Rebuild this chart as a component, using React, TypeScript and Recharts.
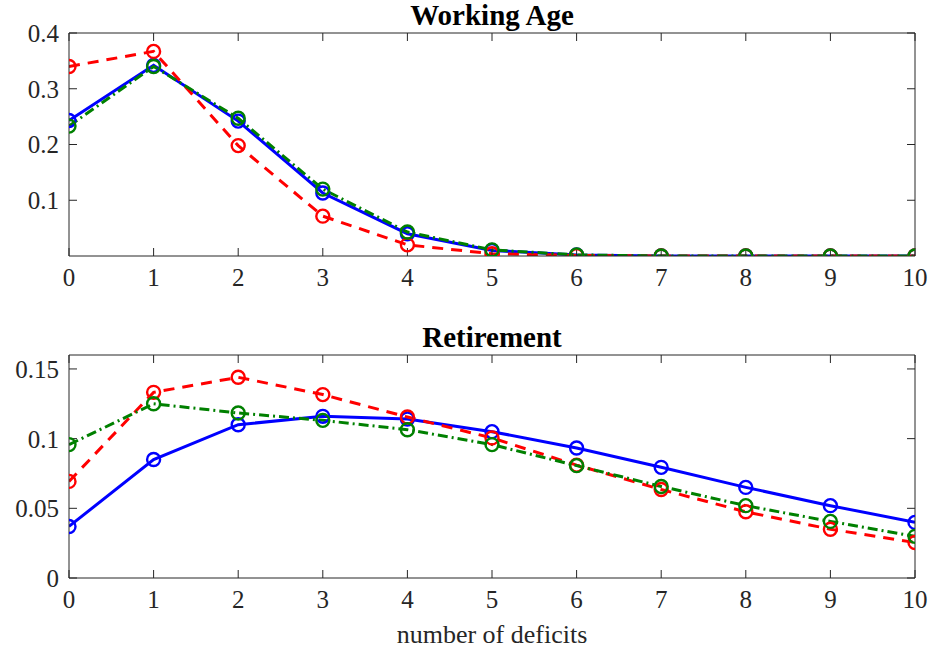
import React from "react";
import { LineChart, Line, XAxis, YAxis } from "recharts";

const deficits = [0, 1, 2, 3, 4, 5, 6, 7, 8, 9, 10];

// Working Age panel
const workBlue = [0.243, 0.342, 0.242, 0.113, 0.04, 0.01, 0.002, 0, 0, 0, 0];
const workRed = [0.34, 0.367, 0.198, 0.0715, 0.02, 0.004, 0.001, 0, 0, 0, 0];
const workGreen = [0.233, 0.34, 0.247, 0.12, 0.043, 0.011, 0.002, 0, 0, 0, 0];
const workTicks = [0.1, 0.2, 0.3, 0.4];

// Retirement panel
const retBlue = [0.037, 0.085, 0.11, 0.116, 0.114, 0.105, 0.0933, 0.0794, 0.065, 0.0519, 0.0399];
const retRed = [0.0693, 0.1332, 0.144, 0.1316, 0.1155, 0.1005, 0.081, 0.0635, 0.0475, 0.035, 0.0255];
const retGreen = [0.0957, 0.125, 0.1184, 0.1131, 0.1064, 0.0957, 0.0806, 0.0657, 0.0519, 0.0406, 0.0299];
const retTicks = [0, 0.05, 0.1, 0.15];

const FONT = "Liberation Serif, Times New Roman, serif";
const AXIS = "#262626";

type PanelProps = {
  top: number;
  height: number;
  title: string;
  blue: number[];
  red: number[];
  green: number[];
  yMax: number;
  yTicks: number[];
  xLabel?: string;
};

function Panel({ top, height, title, blue, red, green, yMax, yTicks, xLabel }: PanelProps) {
  const data = deficits.map((d, i) => ({ d, blue: blue[i], red: red[i], green: green[i] }));
  const plotTop = 35;
  const plotBottom = 258;
  const tickFont = { fontSize: 25, fill: AXIS, fontFamily: FONT };
  const axisLine = { stroke: AXIS, strokeWidth: 1 };
  const tickLine = { stroke: AXIS, strokeWidth: 1 };
  const dot = (color: string) => ({ r: 6.5, stroke: color, strokeWidth: 2.4, fill: "none", strokeDasharray: "none" });

  return (
    <div style={{ position: "absolute", left: 0, top, width: 930, height }}>
      <LineChart
        width={930}
        height={height}
        data={data}
        margin={{ top: plotTop - 1, right: 14, bottom: height - plotBottom - 40, left: 9 }}
        style={{ position: "absolute", left: 0, top: 0 }}
      >
        <XAxis
          xAxisId="b"
          dataKey="d"
          type="number"
          domain={[0, 10]}
          ticks={deficits}
          height={40}
          tickSize={-8}
          tickMargin={20}
          tick={tickFont}
          axisLine={axisLine}
          tickLine={tickLine}
          allowDataOverflow
        />
        <XAxis
          xAxisId="t"
          orientation="top"
          dataKey="d"
          type="number"
          domain={[0, 10]}
          ticks={deficits}
          height={1}
          tickSize={-8}
          tickFormatter={() => ""}
          axisLine={axisLine}
          tickLine={tickLine}
          allowDataOverflow
        />
        <YAxis
          yAxisId="l"
          type="number"
          domain={[0, yMax]}
          ticks={yTicks}
          width={60}
          tickSize={-8}
          tickMargin={18}
          tick={tickFont}
          axisLine={axisLine}
          tickLine={tickLine}
          allowDataOverflow
        />
        <YAxis
          yAxisId="r"
          orientation="right"
          type="number"
          domain={[0, yMax]}
          ticks={yTicks}
          width={1}
          tickSize={-8}
          tickFormatter={() => ""}
          axisLine={axisLine}
          tickLine={tickLine}
          allowDataOverflow
        />
        <Line
          xAxisId="b"
          yAxisId="l"
          dataKey="blue"
          stroke="#0000ff"
          strokeWidth={3}
          dot={dot("#0000ff")}
          isAnimationActive={false}
        />
        <Line
          xAxisId="b"
          yAxisId="l"
          dataKey="red"
          stroke="#ff0000"
          strokeWidth={3}
          strokeDasharray="11 8"
          dot={dot("#ff0000")}
          isAnimationActive={false}
        />
        <Line
          xAxisId="b"
          yAxisId="l"
          dataKey="green"
          stroke="#008000"
          strokeWidth={3}
          strokeDasharray="10 4 2 4"
          dot={dot("#008000")}
          isAnimationActive={false}
        />
      </LineChart>
      <div
        style={{
          position: "absolute",
          left: 69,
          width: 846,
          top: 2,
          textAlign: "center",
          fontFamily: FONT,
          fontWeight: "bold",
          fontSize: 29,
          lineHeight: "30px",
          color: "#000",
        }}
      >
        {title}
      </div>
      {xLabel && (
        <div
          style={{
            position: "absolute",
            left: 69,
            width: 846,
            top: plotBottom + 43,
            textAlign: "center",
            fontFamily: FONT,
            fontSize: 26,
            lineHeight: "28px",
            color: AXIS,
          }}
        >
          {xLabel}
        </div>
      )}
    </div>
  );
}

export default function App() {
  return (
    <div style={{ position: "absolute", left: 0, top: 0, width: 930, height: 654, background: "#fff" }}>
      <Panel
        top={-2}
        height={310}
        title="Working Age"
        blue={workBlue}
        red={workRed}
        green={workGreen}
        yMax={0.4}
        yTicks={workTicks}
      />
      <Panel
        top={320}
        height={334}
        title="Retirement"
        blue={retBlue}
        red={retRed}
        green={retGreen}
        yMax={0.16}
        yTicks={retTicks}
        xLabel="number of deficits"
      />
    </div>
  );
}
